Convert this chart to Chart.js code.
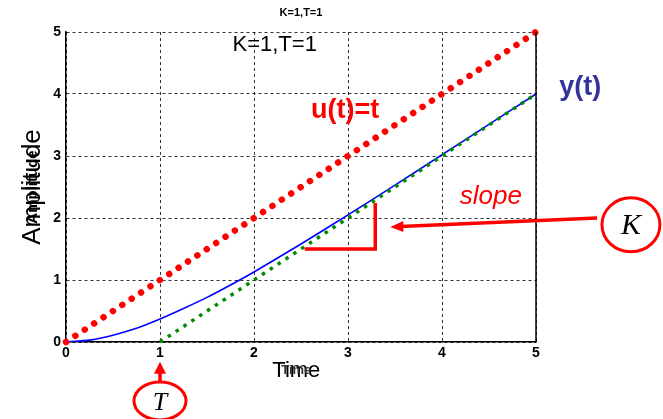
<!DOCTYPE html>
<html lang="en">
<head>
<meta charset="UTF-8">
<title>K=1,T=1</title>
<style>
  body { margin: 0; background: #fff; }
  #wrap { width: 663px; height: 419px; }
</style>
<script src="https://cdn.jsdelivr.net/npm/chart.js"></script>
</head>
<body>
<div id="wrap"><canvas id="rampChart" width="663" height="419"></canvas></div>
<script>
// axis ticks
const timeTicks = [0, 1, 2, 3, 4, 5];
const ampTicks = [0, 1, 2, 3, 4, 5];

// ramp response y(t)
const respTime = [0, 0.25, 0.5, 0.75, 1, 1.25, 1.5, 1.75, 2, 2.5, 3, 3.5, 4, 4.5, 5];
const respAmp  = [0, 0.03, 0.11, 0.22, 0.37, 0.54, 0.72, 0.92, 1.13, 1.58, 2.05, 2.53, 3.02, 3.51, 4.0];

// input u(t)=t and the asymptote (end points only, drawn dotted)
const inputTime = [0, 5];
const inputAmp  = [0, 5];
const asymTime  = [1, 5];
const asymAmp   = [0, 4];

// slope triangle
const slopeTime = [2.54, 3.29, 3.29];
const slopeAmp  = [1.5, 1.5, 2.24];

const pts = (xs, ys) => xs.map((v, i) => ({ x: v, y: ys[i] }));
const FONT = '"Liberation Sans", Arial, sans-serif';

function text(ctx, str, x, y, font, color, maxW) {
  ctx.font = font;
  ctx.fillStyle = color;
  ctx.textAlign = 'center';
  ctx.textBaseline = 'middle';
  if (maxW) ctx.fillText(str, x, y, maxW); else ctx.fillText(str, x, y);
}

// annotations: labels, circles, arrows
const notes = {
  id: 'notes',
  afterDraw(chart) {
    const { ctx, chartArea: a } = chart;
    const px = v => chart.scales.x.getPixelForValue(v);
    const py = v => chart.scales.y.getPixelForValue(v);
    ctx.save();

    // solid right edge of the box
    ctx.strokeStyle = '#000';
    ctx.lineWidth = 1.5;
    ctx.beginPath();
    ctx.moveTo(a.right, a.top);
    ctx.lineTo(a.right, a.bottom);
    ctx.stroke();

    text(ctx, 'K=1,T=1', px(2.5), py(5.31), 'bold 11px ' + FONT, '#000');
    text(ctx, 'K=1,T=1', px(2.22), py(4.79), '22px ' + FONT, '#000', 92);
    text(ctx, 'u(t)=t', px(2.97), py(3.73), 'bold 27px ' + FONT, '#ff0000', 80);
    text(ctx, 'y(t)', px(5.47), py(4.1), 'bold 27px ' + FONT, '#333399', 50);
    text(ctx, 'slope', px(4.52), py(2.34), 'italic 26px ' + FONT, '#ff0000', 74);

    // axis titles (doubled, as in the original)
    text(ctx, 'Time', px(2.45), py(-0.46), '22px ' + FONT, '#000', 56);
    text(ctx, 'Time', px(2.45), py(-0.46), 'bold 13px ' + FONT, '#333');
    ctx.save();
    ctx.translate(px(-0.35), py(2.5));
    ctx.rotate(-Math.PI / 2);
    text(ctx, 'Amplitude', 0, 0, '26px ' + FONT, '#000', 126);
    text(ctx, 'Amplitude', 0, 0, 'bold 15px ' + FONT, '#000');
    ctx.restore();

    ctx.strokeStyle = '#ff0000';
    ctx.fillStyle = '#ff0000';
    ctx.lineWidth = 3.5;

    // K arrow
    const kx0 = px(5.65), ky0 = py(2.0), kx1 = px(3.45), ky1 = py(1.855);
    ctx.beginPath();
    ctx.moveTo(kx0, ky0);
    ctx.lineTo(kx1 + 10, ky1 - 0.4);
    ctx.stroke();
    ctx.beginPath();
    ctx.moveTo(kx1, ky1);
    ctx.lineTo(kx1 + 13, ky1 - 6);
    ctx.lineTo(kx1 + 13, ky1 + 5);
    ctx.closePath();
    ctx.fill();

    // K circle
    const kcx = px(6.01), kcy = py(1.89);
    ctx.lineWidth = 3;
    ctx.fillStyle = '#fff';
    ctx.beginPath();
    ctx.ellipse(kcx, kcy, 29, 27, 0, 0, Math.PI * 2);
    ctx.fill();
    ctx.stroke();
    text(ctx, 'K', kcx, kcy + 1, 'italic 30px "Liberation Serif", serif', '#000');

    // T arrow
    const tx = px(1.0);
    ctx.lineWidth = 3.5;
    ctx.fillStyle = '#ff0000';
    ctx.beginPath();
    ctx.moveTo(tx, py(-0.66));
    ctx.lineTo(tx, py(-0.32) + 8);
    ctx.stroke();
    ctx.beginPath();
    ctx.moveTo(tx, py(-0.32));
    ctx.lineTo(tx - 6, py(-0.32) + 12);
    ctx.lineTo(tx + 6, py(-0.32) + 12);
    ctx.closePath();
    ctx.fill();

    // T circle
    const tcy = py(-0.95);
    ctx.lineWidth = 3;
    ctx.fillStyle = '#fff';
    ctx.beginPath();
    ctx.ellipse(tx, tcy, 26, 19, 0, 0, Math.PI * 2);
    ctx.fill();
    ctx.stroke();
    text(ctx, 'T', tx, tcy + 2, 'italic 26px "Liberation Serif", serif', '#000');

    ctx.restore();
  }
};

const axisFont = { family: FONT, size: 14, weight: 'bold' };

new Chart(document.getElementById('rampChart'), {
  type: 'scatter',
  data: {
    datasets: [
      {
        label: 'u(t)',
        data: pts(inputTime, inputAmp),
        showLine: true,
        clip: false,
        borderColor: '#ff0000',
        borderWidth: 6.5,
        borderCapStyle: 'round',
        borderDash: [0.001, 11.24],
        pointRadius: 0
      },
      {
        label: 'asymptote',
        data: pts(asymTime, asymAmp),
        showLine: true,
        clip: false,
        borderColor: '#008a00',
        borderWidth: 3.5,
        borderDash: [3.5, 5.9],
        pointRadius: 0
      },
      {
        label: 'y(t)',
        data: pts(respTime, respAmp),
        showLine: true,
        borderColor: '#0000ff',
        borderWidth: 1.6,
        pointRadius: 0,
        tension: 0.2
      },
      {
        label: 'slope',
        data: pts(slopeTime, slopeAmp),
        showLine: true,
        borderColor: '#ff0000',
        borderWidth: 3.5,
        borderJoinStyle: 'miter',
        pointRadius: 0
      }
    ]
  },
  options: {
    responsive: false,
    animation: false,
    layout: { padding: { top: 32, right: 127, bottom: 0, left: 0 } },
    plugins: { legend: { display: false }, tooltip: { enabled: false } },
    scales: {
      x: {
        type: 'linear',
        min: 0, max: 5,
        afterFit: s => { s.height = 77; },
        afterBuildTicks: s => { s.ticks = timeTicks.map(v => ({ value: v })); },
        ticks: { color: '#000', font: axisFont, padding: 3, maxRotation: 0 },
        grid: { color: '#000', lineWidth: 0.8, drawTicks: false },
        border: { color: '#000', width: 1.5, dash: [3, 3] }
      },
      y: {
        type: 'linear',
        min: 0, max: 5,
        afterFit: s => { s.width = 66; },
        afterBuildTicks: s => { s.ticks = ampTicks.map(v => ({ value: v })); },
        ticks: { color: '#000', font: axisFont, padding: 5 },
        grid: { color: '#000', lineWidth: 0.8, drawTicks: false },
        border: { color: '#000', width: 1.5, dash: [3, 3] }
      }
    }
  },
  plugins: [notes]
});
</script>
</body>
</html>
